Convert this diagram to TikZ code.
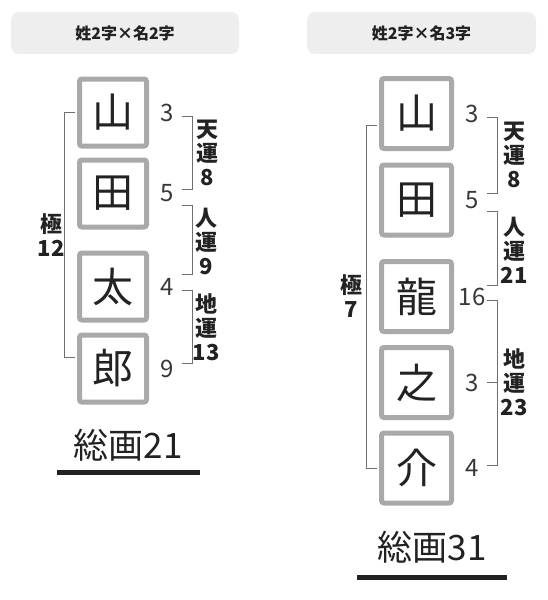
\documentclass[tikz,border=0pt]{standalone}
\usepackage{fontspec}
\setmainfont{Noto Sans CJK JP}
\usetikzlibrary{positioning}
\definecolor{frameG}{HTML}{A9A9A9}
\definecolor{headG}{HTML}{EEEEEE}
\definecolor{inkG}{HTML}{222222}
\definecolor{lineG}{HTML}{6F6F6F}

\begin{document}
\begin{tikzpicture}[x=1pt,y=-1pt,
  kanji/.style={draw=frameG,line width=5pt,fill=white,rounded corners=2.5pt,minimum size=#1,inner sep=0pt,text=inkG,font=\fontsize{41}{41}\selectfont},
  kanji/.default=67pt,
  num/.style={inner sep=0pt,text=inkG!90,font=\fontsize{24}{24}\selectfont},
  unsei/.style={align=center,inner sep=0pt,text=inkG,font=\bfseries\fontsize{22}{24}\selectfont},
  brk/.style={draw=lineG,line width=0.9pt},
  head/.style={fill=headG,rounded corners=8pt,minimum width=228pt,minimum height=42pt,inner sep=0pt,text=inkG,font=\bfseries\fontsize{16}{16}\selectfont},
  total/.style={inner sep=0pt,text=inkG,font=\fontsize{35}{35}\selectfont},
  uline/.style={draw=inkG,line width=5pt}]
\useasboundingbox (0,0) rectangle (548,600);

% 姓2字 x 名2字
\node[head] (hL) at (125,33) {姓2字×名2字};
\foreach \n/\k/\y/\v in {L1/山/112.5/3, L2/田/193.5/5, L3/太/286.5/4, L4/郎/368.5/9}{
  \node[kanji] (\n) at (113,\y) {\k};
  \node[num] (num\n) at ([xshift=18pt]\n.east) {\v};
}
\draw[brk] ([shift={(15pt,-4pt)}]numL1.center) -- ++(10,0) |- ([shift={(15pt,4pt)}]numL2.center);
\draw[brk] ([shift={(15pt,-12pt)}]numL2.center) -- ++(10,0) |- ([shift={(15pt,12pt)}]numL3.center);
\draw[brk] ([shift={(15pt,-4pt)}]numL3.center) -- ++(10,0) |- ([shift={(15pt,5pt)}]numL4.center);
\draw[brk] ([xshift=-2.5pt]L1.west) -- ++(-10,0) |- ([xshift=-2.5pt,yshift=11.5pt]L4.west);
\node[unsei] (tenL) at (207,153) {天\\運\\8};
\node[unsei] (jinL) at (206,241) {人\\運\\9};
\node[unsei] (chiL) at (206,327) {地\\運\\13};
\node[unsei] (kyokuL) at (51,235) {極\\12};
\node[total] (sumL) at (128,445) {総画21};
\draw[uline] (57,472) -- (200,472);

% 姓2字 x 名3字
\node[head,minimum width=229pt] (hR) at (421.5,33) {姓2字×名3字};
\foreach \n/\k/\y/\v in {R1/山/113.5/3, R2/田/200/5, R3/龍/296.5/16, R4/之/382.5/3, R5/介/468/4}{
  \node[kanji=70pt] (\n) at (416.5,\y) {\k};
  \node[num] (num\n) at ([xshift=18pt]\n.east) {\v};
}
\draw[brk] ([shift={(15pt,-4pt)}]numR1.center) -- ++(10,0) |- ([shift={(15pt,7pt)}]numR2.center);
\draw[brk] ([shift={(15pt,-11pt)}]numR2.center) -- ++(10,0) |- ([shift={(15pt,11pt)}]numR3.center);
\draw[brk] ([shift={(15pt,-4pt)}]numR3.center) -- ++(10,0) |- ([shift={(15pt,3pt)}]numR5.center);
\draw[brk] ([xshift=15pt]numR4.center) -- ++(10,0);
\draw[brk] ([xshift=-2.5pt,yshift=-11.5pt]R1.west) -- ++(-10,0) |- ([xshift=-2.5pt]R5.west);
\node[unsei] (tenR) at (514,155) {天\\運\\8};
\node[unsei] (jinR) at (514,250) {人\\運\\21};
\node[unsei] (chiR) at (514,382) {地\\運\\23};
\node[unsei] (kyokuR) at (351,296) {極\\7};
\node[total] (sumR) at (432,547) {総画31};
\draw[uline] (357,577) -- (507,577);
\end{tikzpicture}
\end{document}
